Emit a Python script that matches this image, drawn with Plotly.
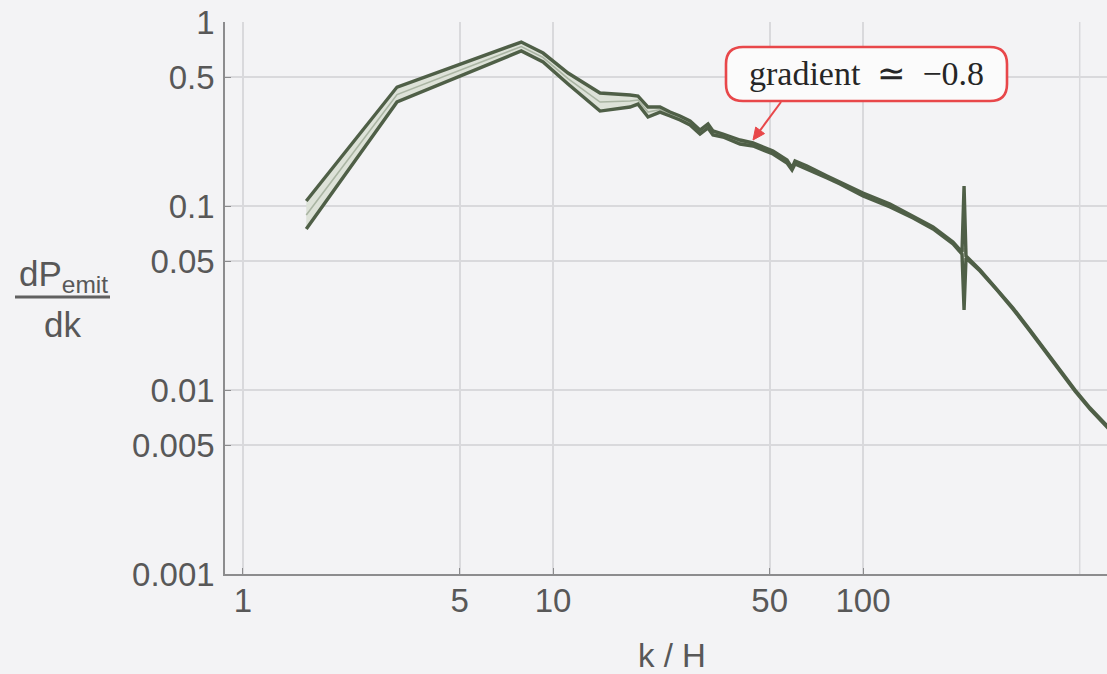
import plotly.graph_objects as go

# k / H sample points and the band of dP_emit/dk (upper edge, centre, lower edge)
k_over_h = [1.6, 3.14, 7.9, 9.29, 11.18, 14.18, 17.72, 18.8, 20.25, 22.14,
            23.85, 25.69, 27.67, 29.8, 31.62, 32.81, 35.35, 40.11, 44.18, 51.25,
            56.86, 59.02, 60.35, 65.98, 76.55, 84.31, 100.0, 122.2, 145.0, 168.2,
            195.1, 208.6, 211.8, 214.9, 238.5, 270.6, 304.7, 345.7, 386.5, 432.1,
            483.1, 539.9, 612.5, 726.5]
upper = [0.1065, 0.443, 0.778, 0.678, 0.528, 0.411, 0.401, 0.396, 0.345, 0.345,
         0.324, 0.3084, 0.2897, 0.2588, 0.2791, 0.2557, 0.2462, 0.2284, 0.22, 0.199,
         0.1778, 0.1609, 0.1756, 0.165, 0.1456, 0.135, 0.1177, 0.1025, 0.0882, 0.0769,
         0.0637, 0.0562, 0.1284, 0.0535, 0.0449, 0.0354, 0.0279, 0.0212, 0.0165, 0.01284,
         0.0100, 0.00798, 0.00637, 0.00472]
centre = [0.0894, 0.4034, 0.7359, 0.641, 0.4928, 0.3672, 0.372, 0.3765, 0.3242, 0.3343,
          0.3161, 0.3008, 0.2826, 0.2524, 0.2722, 0.2493, 0.2416, 0.2228, 0.2159, 0.1953,
          0.1745, 0.1589, 0.1724, 0.1619, 0.1438, 0.1333, 0.1155, 0.1006, 0.0871, 0.0759,
          0.0629, 0.0555, 0.0591, 0.0528, 0.0446, 0.0351, 0.0277, 0.0210, 0.0164, 0.01274,
          0.00992, 0.00792, 0.00632, 0.00468]
lower = [0.075, 0.3674, 0.696, 0.606, 0.46, 0.328, 0.345, 0.358, 0.3046, 0.324,
         0.3084, 0.2934, 0.2756, 0.2462, 0.2654, 0.2431, 0.2371, 0.2173, 0.2119, 0.1917,
         0.1713, 0.1569, 0.1692, 0.1589, 0.142, 0.1317, 0.1133, 0.0988, 0.086, 0.075,
         0.0622, 0.0548, 0.0272, 0.0522, 0.0443, 0.0349, 0.0275, 0.0209, 0.0163, 0.01265,
         0.00985, 0.00786, 0.00628, 0.00465]

x_ticks = [1, 5, 10, 50, 100]
x_tick_text = ["1", "5", "10", "50", "100"]
x_extra_grid = [500]
y_ticks = [0.001, 0.005, 0.01, 0.05, 0.1, 0.5, 1]
y_tick_text = ["0.001", "0.005", "0.01", "0.05", "0.1", "0.5", "1"]

W, H = 1107, 674
L, R, T, B = 225, 0, 22, 100
BG = "#f3f3f5"
DARK = "#4f5f47"
AXIS = "#8c8c8e"
GRID = "#d9d9dc"
TXT = "#585858"
RED = "#e8474a"
SANS = "Liberation Sans, Arial, sans-serif"

pw, ph = W - L - R, H - T - B


def px(x):
    return (x - L) / pw


def py(y):
    return (H - B - y) / ph


fig = go.Figure()

# shaded band between the two edges
fig.add_trace(go.Scatter(x=k_over_h, y=lower, mode="lines",
                         line=dict(width=0, color=DARK), hoverinfo="skip",
                         showlegend=False))
fig.add_trace(go.Scatter(x=k_over_h, y=upper, mode="lines", fill="tonexty",
                         fillcolor="#dde2d8", line=dict(width=0, color=DARK),
                         hoverinfo="skip", showlegend=False))
# centre line, then the two dark edges
fig.add_trace(go.Scatter(x=k_over_h, y=centre, mode="lines",
                         line=dict(width=1.6, color="#aab5a3"), showlegend=False))
fig.add_trace(go.Scatter(x=k_over_h, y=upper, mode="lines",
                         line=dict(width=3.4, color=DARK), showlegend=False))
fig.add_trace(go.Scatter(x=k_over_h, y=lower, mode="lines",
                         line=dict(width=3.4, color=DARK), showlegend=False))

fig.update_xaxes(type="log", range=[-0.058, 2.787],
                 tickvals=x_ticks, ticktext=x_tick_text,
                 ticks="inside", ticklen=6, tickwidth=1.2, tickcolor=AXIS,
                 showline=True, linecolor=AXIS, linewidth=1.5,
                 showgrid=True, gridcolor=GRID, gridwidth=1.5, zeroline=False,
                 tickfont=dict(family=SANS, size=33, color=TXT),
                 ticklabelstandoff=-3)
fig.update_yaxes(type="log", range=[-3, 0],
                 tickvals=y_ticks, ticktext=y_tick_text,
                 ticks="inside", ticklen=6, tickwidth=1.2, tickcolor=AXIS,
                 showline=True, linecolor=AXIS, linewidth=1.5,
                 showgrid=True, gridcolor=GRID, gridwidth=1.5, zeroline=False,
                 tickfont=dict(family=SANS, size=33, color=TXT),
                 ticklabelstandoff=2)

annotations = [
    # x-axis title
    dict(xref="paper", yref="paper", x=px(672), y=py(655), text="k / H",
         showarrow=False, xanchor="center", yanchor="middle",
         font=dict(family=SANS, size=33, color=TXT)),
    # y-axis title as a stacked fraction
    dict(xref="paper", yref="paper", x=px(63), y=py(276),
         text="dP<sub>emit</sub>", showarrow=False,
         xanchor="center", yanchor="middle",
         font=dict(family=SANS, size=35, color=TXT)),
    dict(xref="paper", yref="paper", x=px(62), y=py(324), text="dk",
         showarrow=False, xanchor="center", yanchor="middle",
         font=dict(family=SANS, size=35, color=TXT)),
    # note text
    dict(xref="paper", yref="paper", x=px(866), y=py(74),
         text="gradient\u2002\u2243\u2002\u22120.8", showarrow=False,
         xanchor="center", yanchor="middle",
         font=dict(family="Liberation Serif, serif", size=34, color="#262626")),
]

# rounded box around the note
x0, x1, y0, y1, r = 726, 1007, 47, 101, 17
box = (f"M {px(x0 + r)},{py(y0)} L {px(x1 - r)},{py(y0)} "
       f"Q {px(x1)},{py(y0)} {px(x1)},{py(y0 + r)} "
       f"L {px(x1)},{py(y1 - r)} Q {px(x1)},{py(y1)} {px(x1 - r)},{py(y1)} "
       f"L {px(x0 + r)},{py(y1)} Q {px(x0)},{py(y1)} {px(x0)},{py(y1 - r)} "
       f"L {px(x0)},{py(y0 + r)} Q {px(x0)},{py(y0)} {px(x0 + r)},{py(y0)} Z")

# arrow from the box down to the curve
tail = (781, 102)
tip = (753, 140)
dx, dy = tip[0] - tail[0], tip[1] - tail[1]
n = (dx * dx + dy * dy) ** 0.5
ux, uy = dx / n, dy / n
hl, hw = 12, 5.5
bx, by = tip[0] - hl * ux, tip[1] - hl * uy
head = (f"M {px(tip[0])},{py(tip[1])} "
        f"L {px(bx - hw * uy)},{py(by + hw * ux)} "
        f"L {px(bx + hw * uy)},{py(by - hw * ux)} Z")

shapes = [dict(type="line", xref="x", yref="paper", x0=g, x1=g, y0=0, y1=1,
               line=dict(color=GRID, width=1.5), layer="below")
          for g in x_extra_grid]
shapes += [
    dict(type="path", xref="paper", yref="paper", path=box,
         fillcolor="#fbfbfb", line=dict(color=RED, width=2.6), layer="above"),
    dict(type="line", xref="paper", yref="paper",
         x0=px(tail[0]), y0=py(tail[1]), x1=px(bx), y1=py(by),
         line=dict(color=RED, width=2)),
    dict(type="path", xref="paper", yref="paper", path=head,
         fillcolor=RED, line=dict(color=RED, width=1)),
    # fraction bar of the y-axis title
    dict(type="line", xref="paper", yref="paper", x0=px(15), x1=px(110),
         y0=py(297), y1=py(297), line=dict(color="#606060", width=3)),
]

fig.update_layout(width=W, height=H, margin=dict(l=L, r=R, t=T, b=B),
                  paper_bgcolor=BG, plot_bgcolor=BG,
                  annotations=annotations, shapes=shapes, showlegend=False)

fig.write_html("out.html")
